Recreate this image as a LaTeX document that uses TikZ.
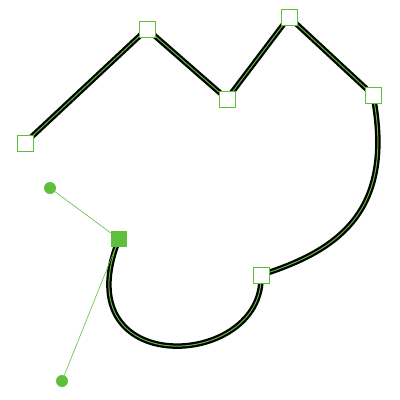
\documentclass[tikz,border=0pt]{standalone}
\usepackage{tikz}
\usetikzlibrary{calc}
\definecolor{handlegreen}{RGB}{95,190,60}

\tikzset{
  vertex/.style={draw=handlegreen, fill=white, line width=0.8pt,
                 minimum size=16pt, inner sep=0pt},
  selvertex/.style={fill=handlegreen, minimum size=16pt, inner sep=0pt},
  knob/.style={circle, fill=handlegreen, minimum size=12pt, inner sep=0pt},
  outline/.style={line width=5.5pt, black},
  inline/.style={line width=1pt, handlegreen}
}

\begin{document}
\begin{tikzpicture}[x=1pt, y=-1pt]
  \useasboundingbox (0,0) rectangle (400,400);

  % Vertex positions
  \coordinate (pa) at (25,143);
  \coordinate (pb) at (147,29);
  \coordinate (pc) at (227,99);
  \coordinate (pd) at (289,17);
  \coordinate (pe) at (373,95);
  \coordinate (pf) at (261,275);
  \coordinate (pg) at (119,239);

  % Control handles
  \coordinate (c1) at (395,210);
  \coordinate (c2) at (340,250);
  \coordinate (c3) at (265,370);
  \coordinate (c4) at (62,381);

  % The path: black outline, green centre line
  \foreach \sty in {outline, inline}
    \draw[\sty, line join=round] (pa) -- (pb) -- (pc) -- (pd) -- (pe)
      .. controls (c1) and (c2) .. (pf)
      .. controls (c3) and (c4) .. (pg);

  % Handles of the selected vertex
  \node[knob] (h1) at (50,188) {};
  \node[knob] (h2) at (c4) {};
  \node[selvertex] (g) at (pg) {};
  \draw[handlegreen, line width=0.6pt] (g) -- (h1);
  \draw[handlegreen, line width=0.6pt] (g) -- (h2);

  % Vertices
  \node[vertex] (a) at (pa) {};
  \node[vertex] (b) at (pb) {};
  \node[vertex] (c) at (pc) {};
  \node[vertex] (d) at (pd) {};
  \node[vertex] (e) at (pe) {};
  \node[vertex] (f) at (pf) {};
\end{tikzpicture}
\end{document}
